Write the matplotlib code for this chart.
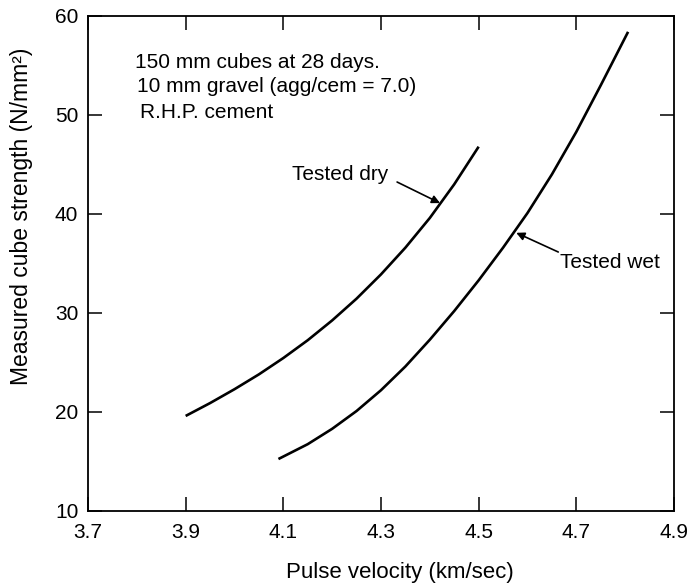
import matplotlib
matplotlib.use("Agg")
import matplotlib.pyplot as plt

# Curves (pulse velocity km/s, cube strength N/mm2)
dry_velocity = [3.90, 3.95, 4.00, 4.05, 4.10, 4.15, 4.20, 4.25, 4.30, 4.35, 4.40, 4.45, 4.50]
dry_strength = [19.6, 20.9, 22.3, 23.8, 25.45, 27.25, 29.25, 31.45, 33.9, 36.6, 39.6, 43.0, 46.8]

wet_velocity = [4.09, 4.15, 4.20, 4.25, 4.30, 4.35, 4.40, 4.45, 4.50, 4.55, 4.60, 4.65, 4.70, 4.75, 4.806]
wet_strength = [15.25, 16.75, 18.3, 20.1, 22.2, 24.6, 27.3, 30.2, 33.3, 36.6, 40.1, 44.0, 48.3, 53.0, 58.4]

x_ticks = [3.7, 3.9, 4.1, 4.3, 4.5, 4.7, 4.9]
y_ticks = [10, 20, 30, 40, 50, 60]

notes = ["150 mm cubes at 28 days.", "10 mm gravel (agg/cem = 7.0)", "R.H.P. cement"]

plt.rcParams.update({
    "font.family": "Liberation Sans",
    "font.size": 15,
})

fig = plt.figure(figsize=(6.9, 5.86), dpi=100)
ax = fig.add_axes([0.1275, 0.128, 0.8493, 0.8447])

ax.plot(dry_velocity, dry_strength, color="black", lw=1.9, solid_capstyle="butt",
        solid_joinstyle="round")
ax.plot(wet_velocity, wet_strength, color="black", lw=1.9, solid_capstyle="butt",
        solid_joinstyle="round")

ax.set_xlim(3.7, 4.9)
ax.set_ylim(10, 60)
ax.set_xticks(x_ticks)
ax.set_xticklabels([f"{v:.1f}" for v in x_ticks])
ax.set_yticks(y_ticks)

for s in ax.spines.values():
    s.set_linewidth(1.3)
ax.tick_params(axis="both", direction="in", length=10, width=1.1,
               top=True, right=True, labelsize=15)
ax.tick_params(axis="x", pad=9)
ax.tick_params(axis="y", pad=7)

ax.set_xlabel("Pulse velocity (km/sec)", fontsize=16)
ax.xaxis.set_label_coords(0.532, -0.103)
ax.set_ylabel("Measured cube strength (N/mm²)", fontsize=16.5)
ax.yaxis.set_label_coords(-0.094, 0.595)

# Notes block, top left
for txt, xx, yy in zip(notes, [3.796, 3.800, 3.806], [55.35, 52.83, 50.3]):
    ax.text(xx, yy, txt, ha="left", va="center", fontsize=15)

# Curve labels with arrows
ax.text(4.118, 43.94, "Tested dry", ha="left", va="center", fontsize=15)
ax.annotate("", xy=(4.421, 41.1), xytext=(4.333, 43.23),
            arrowprops=dict(arrowstyle="-|>", color="black", lw=1.2,
                            mutation_scale=12, shrinkA=0, shrinkB=0))
ax.text(4.667, 35.05, "Tested wet", ha="left", va="center", fontsize=15)
ax.annotate("", xy=(4.577, 38.1), xytext=(4.663, 36.16),
            arrowprops=dict(arrowstyle="-|>", color="black", lw=1.2,
                            mutation_scale=12, shrinkA=0, shrinkB=0))

fig.savefig("out.png", dpi=100, facecolor="white")
